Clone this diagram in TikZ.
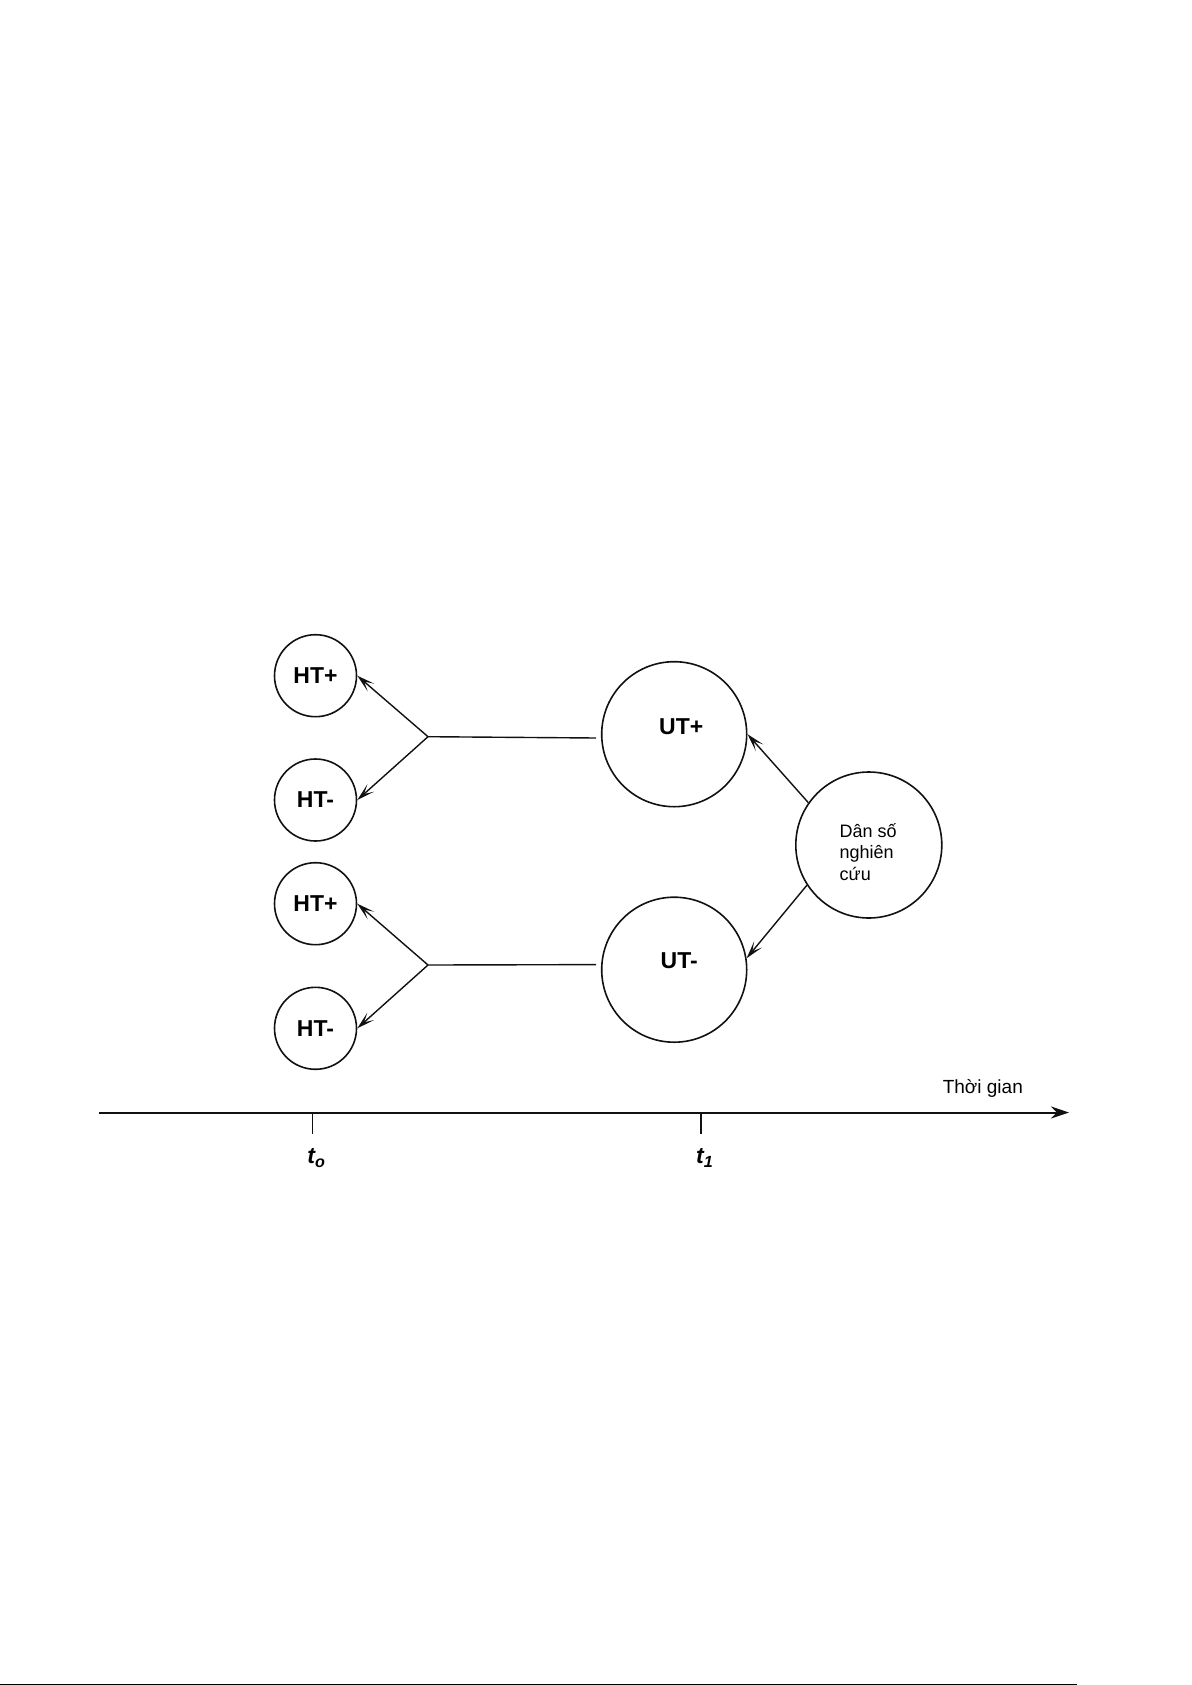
\documentclass[tikz,border=0pt]{standalone}
\usepackage{fontspec}
\setmainfont{Liberation Sans}
\usepackage{xcolor}
\usepackage{tikz}
\usetikzlibrary{arrows.meta,positioning}
\definecolor{cohLine}{HTML}{111111}
\tikzset{
  htcircle/.style={
    circle,
    draw=cohLine,
    line width=0.8pt,
    minimum size=41pt,
    inner sep=0pt,
    font=\fontsize{11.5}{13}\selectfont\bfseries
  },
  utcircle/.style={htcircle, minimum size=72.5pt},
  popcircle/.style={htcircle, minimum size=73pt},
  utlabel/.style={inner sep=0pt, font=\fontsize{11.5}{13}\selectfont\bfseries},
  poptext/.style={align=left, inner sep=0pt, font=\fontsize{9}{10.6}\selectfont},
  timetext/.style={inner sep=0pt, font=\fontsize{9.5}{11}\selectfont},
  ticklabel/.style={inner sep=0pt, font=\fontsize{11.5}{13}\selectfont\bfseries\itshape},
  link/.style={line width=0.7pt, draw=cohLine},
  arrow/.style={-{Stealth[length=9pt,width=5pt,inset=4.5pt]}, line width=0.7pt, draw=cohLine},
  timeaxis/.style={-{Stealth[length=9pt,width=6pt]}, line width=1pt, draw=cohLine}
}

\begin{document}
\begin{tikzpicture}[x=0.5pt, y=-0.5pt]
  \useasboundingbox (0,0) rectangle (1192,1685);

  \node[htcircle] (htp1) at (315.5,675.7) {HT+};
  \node[htcircle] (htm1) at (315.5,800) {HT-};
  \node[htcircle] (htp2) at (315.5,903.7) {HT+};
  \node[htcircle] (htm2) at (315.5,1028.3) {HT-};
  \node[utcircle, label={[utlabel, xshift=3.5pt, yshift=4pt]center:UT+}] (utp) at (674.2,734.2) {};
  \node[utcircle, label={[utlabel, xshift=2.5pt, yshift=4.5pt]center:UT-}] (utm) at (674.2,969.7) {};
  \node[popcircle] (pop) at (868.8,845) {};
  \node[poptext, anchor=west] (poplabel) at ([xshift=-14.75pt, yshift=-3.5pt]pop.center) {Dân số\\nghiên\\cứu};

  \coordinate (fork1) at (428,736.7);
  \coordinate (fork2) at (428,965);

  \draw[link, shorten >=2.5pt] (fork1) -- (utp.183);
  \draw[link, shorten >=2.5pt] (fork2) -- (utm.176);
  \draw[arrow] (fork1) -- (htp1.east);
  \draw[arrow] (fork1) -- (htm1.east);
  \draw[arrow] (fork2) -- (htp2.east);
  \draw[arrow] (fork2) -- (htm2.east);
  \draw[arrow] (pop.145) -- (utp.east);
  \draw[arrow] (pop.213) -- (utm.9);

  \coordinate (axisstart) at (99,1112.5);
  \coordinate (axisend) at (1069,1112.5);
  \coordinate (tick0) at (312.3,1112.5);
  \coordinate (tick1) at (701,1112.5);
  \draw[timeaxis] (axisstart) -- (axisend);
  \draw[link] (tick0) -- ++(0,21);
  \draw[link] (tick1) -- ++(0,21);
  \node[ticklabel] (t0label) at (316.7,1158) {t\textsubscript{o}};
  \node[ticklabel] (t1label) at (705,1158) {t\textsubscript{1}};
  \node[timetext] (timetext) at (982.8,1088) {Thời gian};

  \draw[line width=0.5pt] (0,1684.3) -- (1077,1684.3);
\end{tikzpicture}
\end{document}
